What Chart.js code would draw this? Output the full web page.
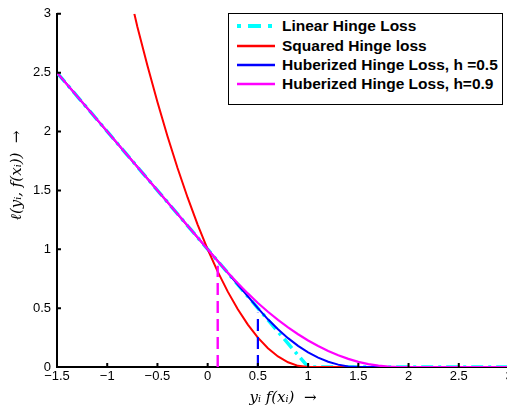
<!DOCTYPE html>
<html>
<head>
<meta charset="utf-8">
<script src="https://cdn.jsdelivr.net/npm/chart.js@4"></script>
<style>
  html, body { margin: 0; padding: 0; background: #fff; overflow: hidden; }
  #wrap { position: relative; width: 520px; height: 407px; }
  #legend { position: absolute; left: 228px; top: 13px; width: 275px; height: 92px; border: 1px solid #000;
    background: #fff; box-sizing: border-box; font: bold 15.5px "Liberation Sans", Arial, sans-serif; color: #000; }
  .row { position: absolute; left: 0; height: 18px; display: flex; align-items: center; white-space: nowrap; }
  .row svg { margin-left: 8px; margin-right: 7px; }
</style>
</head>
<body>
<div id="wrap">
  <canvas id="c"></canvas>
  <div id="legend"></div>
</div>
<script>
// values
const xTickLabels = ['\u22121.5', '\u22121', '\u22120.5', '0', '0.5', '1', '1.5', '2', '2.5', '3'];
const yTickLabels = ['0', '0.5', '1', '1.5', '2', '2.5', '3'];

const linearX = [-1.5, 1, 3];
const linearY = [2.5, 0, 0];

const squaredX = [-0.73, -0.7, -0.6, -0.5, -0.4, -0.3, -0.2, -0.1, 0, 0.1, 0.2, 0.3, 0.4, 0.5, 0.6, 0.7, 0.8, 0.9, 1, 3];
const squaredY = [3.0, 2.89, 2.56, 2.25, 1.96, 1.69, 1.44, 1.21, 1.0, 0.81, 0.64, 0.49, 0.36, 0.25, 0.16, 0.09, 0.04, 0.01, 0, 0];

const huber5X = [-1.5, 0.5, 0.6, 0.7, 0.8, 0.9, 1.0, 1.1, 1.2, 1.3, 1.4, 1.5, 3];
const huber5Y = [2.5, 0.5, 0.405, 0.32, 0.245, 0.18, 0.125, 0.08, 0.045, 0.02, 0.005, 0, 0];

const huber9X = [-1.5, 0.1, 0.2, 0.3, 0.4, 0.5, 0.6, 0.7, 0.8, 0.9, 1.0, 1.1, 1.2, 1.3, 1.4, 1.5, 1.6, 1.7, 1.8, 1.9, 3];
const huber9Y = [2.5, 0.9, 0.803, 0.711, 0.625, 0.544, 0.469, 0.4, 0.336, 0.278, 0.225, 0.178, 0.136, 0.1, 0.069, 0.044, 0.025, 0.011, 0.003, 0, 0];

const markerH9X = [0.1, 0.1];
const markerH9Y = [0, 0.86];
const markerH5X = [0.5, 0.5];
const markerH5Y = [0, 0.46];

const names = ['Linear Hinge Loss', 'Squared Hinge loss', 'Huberized Hinge Loss, h =0.5', 'Huberized Hinge Loss, h=0.9'];
const colors = ['#00FFFF', '#FF0000', '#0000FF', '#FF00FF'];

const pts = (xs, ys) => xs.map((x, i) => ({ x, y: ys[i] }));
const line = (data, color, width, order, dash) => ({
  data, borderColor: color, borderWidth: width, borderDash: dash || [], pointRadius: 0,
  fill: false, tension: 0, order
});

const datasets = [
  line(pts(linearX, linearY), colors[0], 3.5, 5, [12, 5, 3, 5]),
  line(pts(squaredX, squaredY), colors[1], 2, 4),
  line(pts(huber5X, huber5Y), colors[2], 2, 3),
  line(pts(huber9X, huber9Y), colors[3], 2.2, 2),
  line(pts(markerH9X, markerH9Y), colors[3], 2.4, 1, [12, 6]),
  line(pts(markerH5X, markerH5Y), colors[2], 2.2, 1, [12, 6])
];

// MATLAB style ticks pointing into the plot
const inTicks = {
  id: 'inTicks',
  afterDraw(chart) {
    const { ctx, chartArea: a, scales: { x, y } } = chart;
    ctx.save();
    ctx.strokeStyle = '#000';
    ctx.lineWidth = 2;
    ctx.beginPath();
    x.ticks.forEach(t => {
      const px = x.getPixelForValue(t.value);
      if (px <= a.left + 1) return;
      ctx.moveTo(px, a.bottom); ctx.lineTo(px, a.bottom - 4);
    });
    y.ticks.forEach(t => {
      const py = y.getPixelForValue(t.value);
      if (py >= a.bottom - 1) return;
      ctx.moveTo(a.left, py); ctx.lineTo(a.left + 4, py);
    });
    ctx.stroke();
    ctx.restore();
  }
};

const tickFont = { family: '"Liberation Sans", Arial, sans-serif', size: 13 };
const titleFont = { family: '"DejaVu Serif", "Liberation Serif", serif', size: 15, style: 'italic' };

new Chart(document.getElementById('c'), {
  type: 'line',
  data: { datasets },
  options: {
    responsive: true, maintainAspectRatio: false, animation: false,
    layout: { padding: { top: 4, right: 11, left: 0, bottom: 0 } },
    plugins: { legend: { display: false }, tooltip: { enabled: false } },
    scales: {
      x: {
        type: 'linear', min: -1.5, max: 3,
        ticks: { stepSize: 0.5, color: '#000', font: tickFont, padding: 2, maxRotation: 0, autoSkip: false,
          callback: (v, i) => xTickLabels[i] },
        grid: { display: false, drawTicks: false },
        border: { color: '#000', width: 2 },
        title: { display: true, text: 'y\u1D62 f(x\u1D62)  \u2192', color: '#000', font: titleFont, padding: { top: 2, bottom: 0 } },
        afterFit: s => { s.height = 40; }
      },
      y: {
        min: 0, max: 3,
        ticks: { stepSize: 0.5, color: '#000', font: tickFont, padding: 6,
          callback: (v, i) => yTickLabels[i] },
        grid: { display: false, drawTicks: false },
        border: { color: '#000', width: 2 },
        title: { display: true, text: '\u2003\u2003\u2113(y\u1D62, f(x\u1D62))  \u2192', color: '#000', font: titleFont, padding: { top: 8, bottom: 4 } },
        afterFit: s => { s.width = 57; }
      }
    }
  },
  plugins: [inTicks]
});

// legend box overlay
const legend = document.getElementById('legend');
const rowTops = [3, 23, 42, 61];
names.forEach((n, i) => {
  const row = document.createElement('div');
  row.className = 'row';
  row.style.top = rowTops[i] + 'px';
  const dash = i === 0 ? ' stroke-dasharray="4 7 13 7"' : '';
  const w = i === 0 ? 4 : 2.5;
  row.innerHTML = `<svg width="38" height="10"><line x1="0" y1="5" x2="38" y2="5" stroke="${colors[i]}" stroke-width="${w}"${dash}/></svg><span>${n}</span>`;
  legend.appendChild(row);
});
</script>
</body>
</html>
